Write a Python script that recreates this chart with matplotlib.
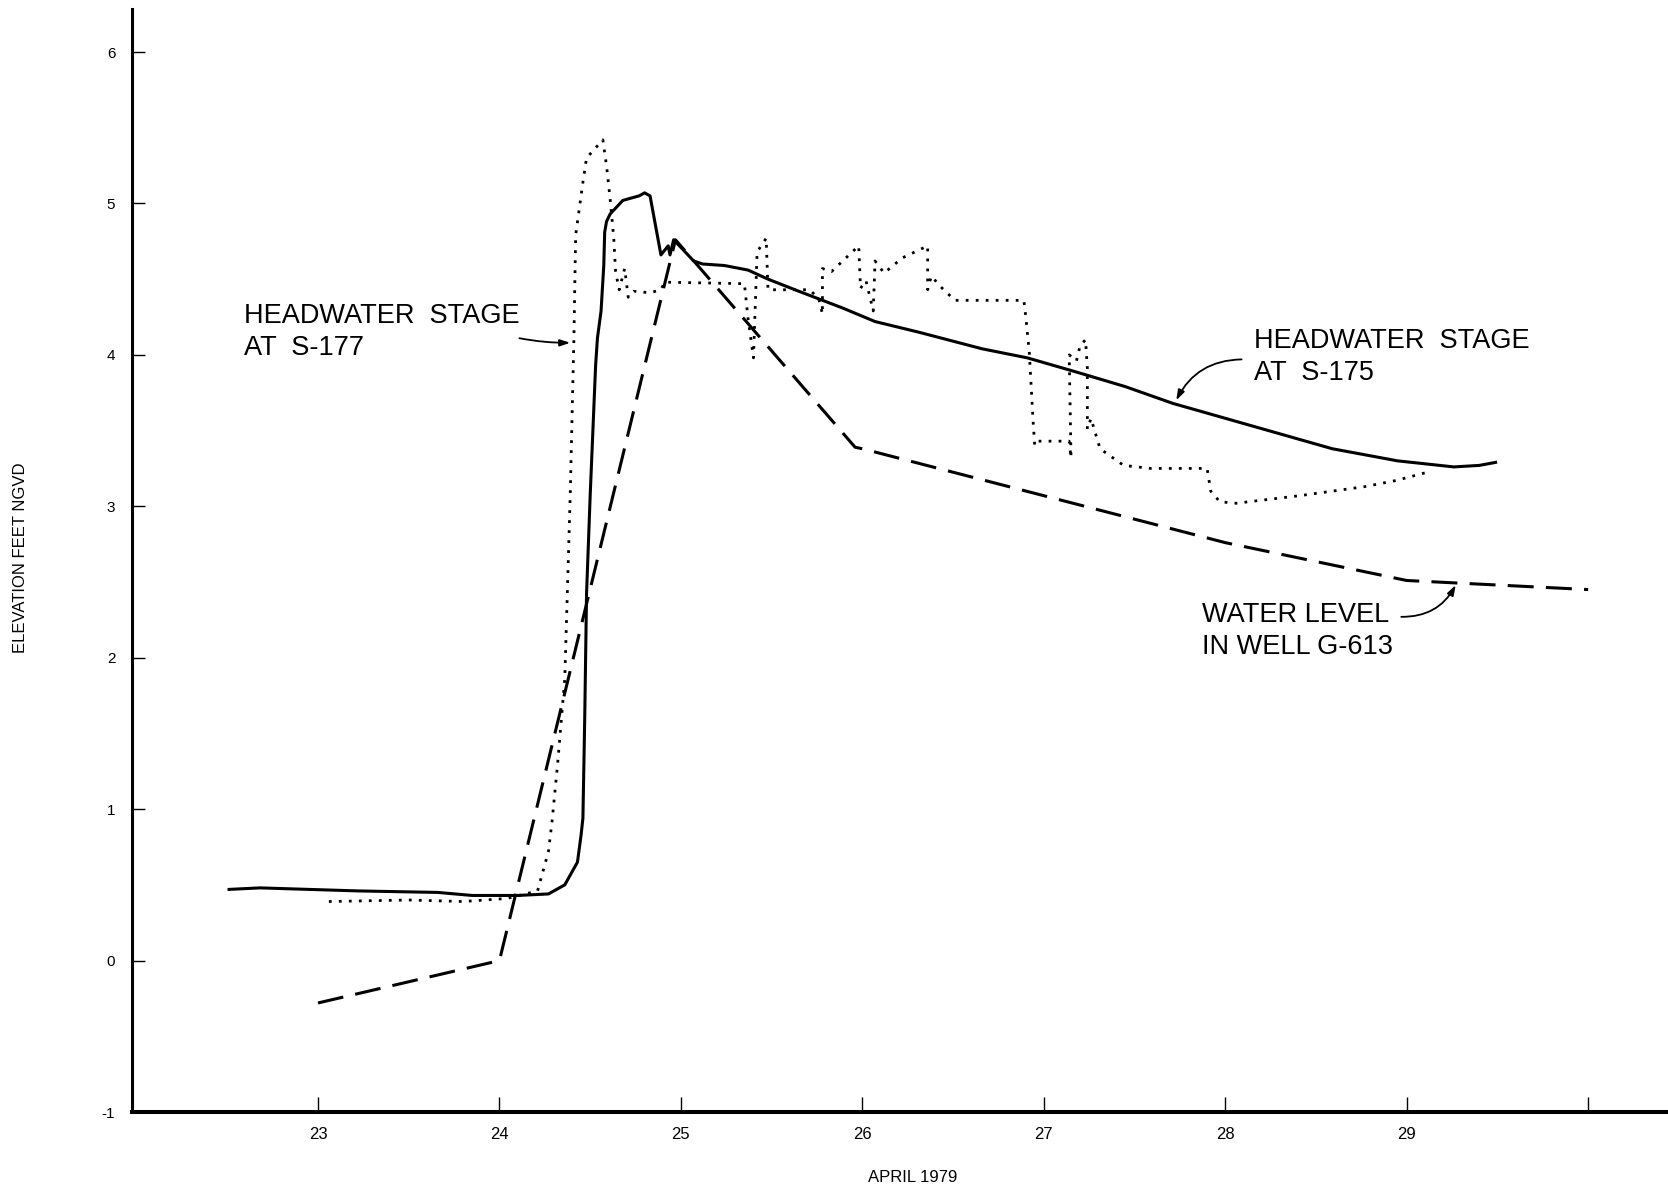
import matplotlib.pyplot as plt

plt.rcParams["font.family"] = ["Liberation Sans", "DejaVu Sans"]

# Headwater stage at S-175 (solid), feet NGVD
s175_day = [22.51, 22.68, 23.22, 23.66, 23.85, 24.10, 24.27, 24.36, 24.43, 24.45,
            24.46, 24.47, 24.48, 24.50, 24.53, 24.54, 24.56, 24.575, 24.58, 24.59,
            24.61, 24.68, 24.77, 24.80, 24.83, 24.85, 24.89, 24.93, 24.94, 24.96,
            25.00, 25.07, 25.12, 25.24, 25.37, 25.48, 25.65, 25.89, 26.07, 26.31,
            26.66, 26.91, 27.17, 27.45, 27.71, 28.15, 28.59, 28.95, 29.26, 29.40,
            29.49]
s175_elev = [0.47, 0.48, 0.46, 0.45, 0.43, 0.43, 0.44, 0.50, 0.65, 0.83,
             0.94, 1.60, 2.42, 3.07, 3.93, 4.11, 4.29, 4.59, 4.81, 4.88,
             4.93, 5.02, 5.05, 5.07, 5.05, 4.92, 4.66, 4.72, 4.66, 4.76,
             4.71, 4.62, 4.60, 4.59, 4.56, 4.50, 4.42, 4.31, 4.22, 4.15,
             4.04, 3.98, 3.89, 3.79, 3.68, 3.53, 3.38, 3.30, 3.26, 3.27,
             3.29]

# Headwater stage at S-177 (dotted)
s177_day = [23.06, 23.50, 23.80, 24.04, 24.21, 24.27, 24.29, 24.32, 24.36, 24.39,
            24.41, 24.42, 24.46, 24.48, 24.57, 24.59, 24.61, 24.63, 24.64, 24.66,
            24.69, 24.71, 24.74, 24.83, 24.89, 24.91, 25.35, 25.37, 25.40, 25.42,
            25.47, 25.48, 25.71, 25.76, 25.78, 25.78, 25.83, 25.98, 25.99, 26.02,
            26.06, 26.07, 26.12, 26.22, 26.36, 26.36, 26.38, 26.44, 26.51, 26.89,
            26.90, 26.92, 26.94, 26.95, 26.97, 27.14, 27.15, 27.14, 27.18, 27.20,
            27.23, 27.24, 27.24, 27.26, 27.31, 27.44, 27.59, 27.90, 27.92, 27.97,
            28.06, 28.41, 28.77, 28.94, 29.13]
s177_elev = [0.39, 0.40, 0.39, 0.41, 0.46, 0.72, 0.92, 1.29, 1.86, 3.07,
             4.09, 4.79, 5.14, 5.30, 5.42, 5.25, 5.03, 4.77, 4.55, 4.43,
             4.57, 4.38, 4.42, 4.41, 4.43, 4.48, 4.47, 4.24, 3.98, 4.68,
             4.77, 4.43, 4.43, 4.37, 4.27, 4.57, 4.55, 4.72, 4.44, 4.49,
             4.29, 4.62, 4.54, 4.64, 4.72, 4.43, 4.52, 4.44, 4.36, 4.36,
             4.26, 4.02, 3.58, 3.40, 3.43, 3.43, 3.32, 4.00, 3.96, 4.06,
             4.10, 3.91, 3.51, 3.58, 3.38, 3.27, 3.25, 3.25, 3.10, 3.03,
             3.02, 3.07, 3.13, 3.17, 3.23]

# Water level in well G-613 (dashed)
g613_day = [23.00, 24.00, 24.97, 25.96, 26.00, 27.00, 28.00, 29.00, 30.00]
g613_elev = [-0.28, 0.00, 4.76, 3.39, 3.38, 3.07, 2.76, 2.51, 2.45]

y_ticks = [-1, 0, 1, 2, 3, 4, 5, 6]
x_ticks = [23, 24, 25, 26, 27, 28, 29, 30]
x_tick_labels = ["23", "24", "25", "26", "27", "28", "29", ""]

W, H = 1668, 1194
fig = plt.figure(figsize=(W / 100, H / 100), dpi=100)
ax = fig.add_axes([132 / W, 82 / H, (W - 132) / W, (H - 9 - 82) / H])
ax.set_xlim(21.975, 30.44)
ax.set_ylim(-1, 6.284)

ax.plot(s175_day, s175_elev, color="black", lw=2.2, solid_joinstyle="round")
ax.plot(s177_day, s177_elev, color="black", lw=2.0, linestyle=(0, (1, 2.6)))
ax.plot(g613_day, g613_elev, color="black", lw=2.2, linestyle=(0, (8.5, 4)))

for side in ("top", "right"):
    ax.spines[side].set_visible(False)
ax.spines["left"].set_linewidth(2.2)
ax.spines["bottom"].set_linewidth(2.9)

ax.set_yticks(y_ticks)
ax.set_yticklabels([str(v) for v in y_ticks])
ax.set_xticks(x_ticks)
ax.set_xticklabels(x_tick_labels)
narrow = ["Liberation Sans Narrow", "Liberation Sans", "DejaVu Sans"]
ax.tick_params(axis="y", direction="in", length=9, width=1.0, pad=12, labelsize=11)
ax.tick_params(axis="x", direction="in", length=11, width=1.0, pad=11, labelsize=12)
for lab in ax.get_xticklabels() + ax.get_yticklabels():
    lab.set_family(narrow)

fig.text(913 / W, 1 - 1178 / H, "APRIL 1979", ha="center", va="center",
         fontsize=12, family=narrow)
fig.text(21 / W, 1 - 558 / H, "ELEVATION FEET NGVD", ha="center", va="center",
         rotation=90, fontsize=12, family=narrow)

label_kw = dict(fontsize=19.5, ha="left", va="center", linespacing=1.3)
arrow_kw = dict(arrowstyle="-|>,head_length=0.6,head_width=0.2", color="black",
                lw=1.3, shrinkA=0, shrinkB=0)

ax.text(22.59, 4.15, "HEADWATER  STAGE\nAT  S-177", **label_kw)
ax.annotate("", xy=(24.39, 4.08), xytext=(24.11, 4.11),
            arrowprops=dict(connectionstyle="arc3,rad=0.05", **arrow_kw))

ax.text(28.16, 3.985, "HEADWATER  STAGE\nAT  S-175", **label_kw)
ax.annotate("", xy=(27.73, 3.70), xytext=(28.09, 3.97),
            arrowprops=dict(connectionstyle="arc3,rad=0.3", **arrow_kw))

ax.text(27.87, 2.175, "WATER LEVEL\nIN WELL G-613", **label_kw)
ax.annotate("", xy=(29.27, 2.48), xytext=(28.97, 2.27),
            arrowprops=dict(connectionstyle="arc3,rad=0.3", **arrow_kw))

fig.savefig("out.png", dpi=100)
